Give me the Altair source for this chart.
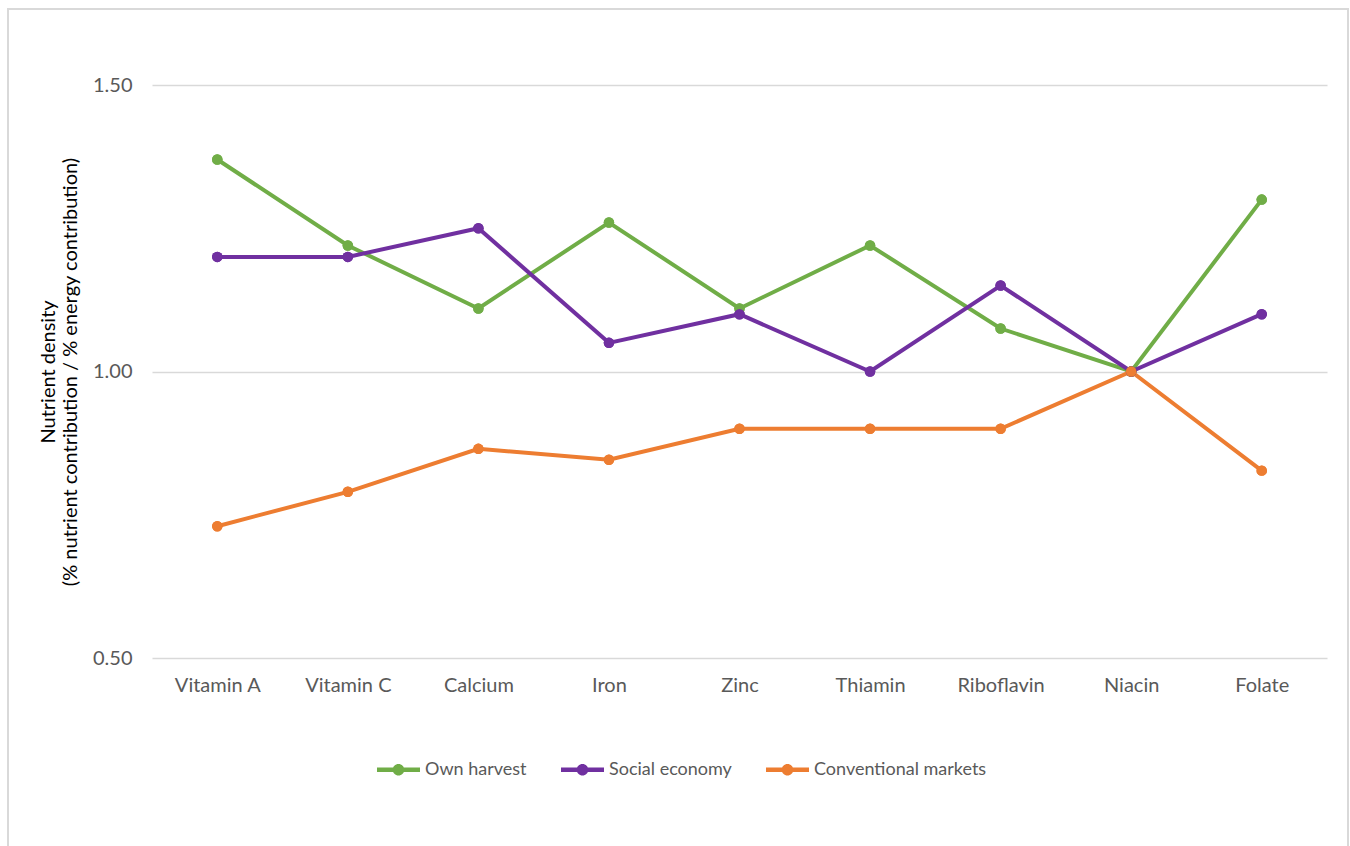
import altair as alt
import pandas as pd

nutrients = ["Vitamin A", "Vitamin C", "Calcium", "Iron", "Zinc", "Thiamin", "Riboflavin", "Niacin", "Folate"]
series_names = ["Own harvest", "Social economy", "Conventional markets"]
own_harvest = [1.37, 1.22, 1.11, 1.26, 1.11, 1.22, 1.075, 1.00, 1.30]
social_economy = [1.20, 1.20, 1.25, 1.05, 1.10, 1.00, 1.15, 1.00, 1.10]
conventional_markets = [0.73, 0.79, 0.865, 0.846, 0.90, 0.90, 0.90, 1.00, 0.827]
colors = ["#70AD47", "#7030A0", "#ED7D31"]
y_ticks = [0.5, 1.0, 1.5]

rows = []
for name, vals in zip(series_names, [own_harvest, social_economy, conventional_markets]):
    for n, v in zip(nutrients, vals):
        rows.append({"Nutrient": n, "Series": name, "Value": v})
df = pd.DataFrame(rows)

FONT = "Lato"
GRAY = "#595959"

legend_symbol = ("M-1,-0.1L1,-0.1L1,0.1L-1,0.1Z "
                 "M-0.27,0A0.27,0.27 0 1,1 0.27,0A0.27,0.27 0 1,1 -0.27,0Z")

color_scale = alt.Scale(domain=series_names, range=colors)

color_leg = alt.Color(
    "Series:N",
    scale=color_scale,
    sort=series_names,
    legend=alt.Legend(
        title=None,
        orient="none",
        direction="horizontal",
        legendX=225,
        legendY=663,
        symbolType=legend_symbol,
        symbolSize=1849,
        symbolStrokeWidth=0,
        symbolOpacity=1,
        labelFont=FONT,
        labelFontSize=18,
        labelColor=GRAY,
        labelOffset=5,
        labelLimit=400,
        columnPadding=34,
    ),
)

x_enc = alt.X("Nutrient:N", sort=nutrients,
              scale=alt.Scale(type="point", padding=0.5),
              axis=alt.Axis(title=None, labelAngle=0, labelFont=FONT, labelFontSize=20,
                            labelColor=GRAY, labelPadding=17, ticks=False, domain=False, grid=False))
y_enc = alt.Y("Value:Q",
              scale=alt.Scale(domain=[0.5, 1.5], nice=False, zero=False),
              axis=alt.Axis(values=y_ticks, format=".2f",
                            title=["Nutrient density", "(% nutrient contribution / % energy contribution)"],
                            titleFont=FONT, titleFontSize=20, titleFontWeight="normal", titleColor="black",
                            titleLineHeight=22, titlePadding=12,
                            labelFont=FONT, labelFontSize=20, labelColor=GRAY, labelPadding=20,
                            ticks=False, domain=False, grid=True, gridColor="#D9D9D9", gridWidth=1.5))

points = alt.Chart(df).mark_point(filled=True, size=110, opacity=1).encode(
    x=x_enc, y=y_enc, color=color_leg
)
lines = alt.Chart(df).mark_line(strokeWidth=4).encode(
    x=alt.X("Nutrient:N", sort=nutrients), y="Value:Q",
    color=alt.Color("Series:N", scale=color_scale, sort=series_names, legend=None),
)

frame = alt.Chart(pd.DataFrame({"a": [0]})).mark_rect(
    fill="transparent", stroke="#D9D9D9", strokeWidth=2, clip=False
).encode(
    x=alt.value(-144), x2=alt.value(1196), y=alt.value(-76), y2=alt.value(790)
)

chart = alt.layer(frame, points, lines, points).properties(
    width=1175, height=573,
    autosize=alt.AutoSizeParams(type="none"),
    padding={"left": 152, "top": 85, "right": 23, "bottom": 188},
).configure(background="white").configure_view(stroke=None, strokeWidth=0)

chart.save("out.html", embed_options={"renderer": "svg", "actions": False})
